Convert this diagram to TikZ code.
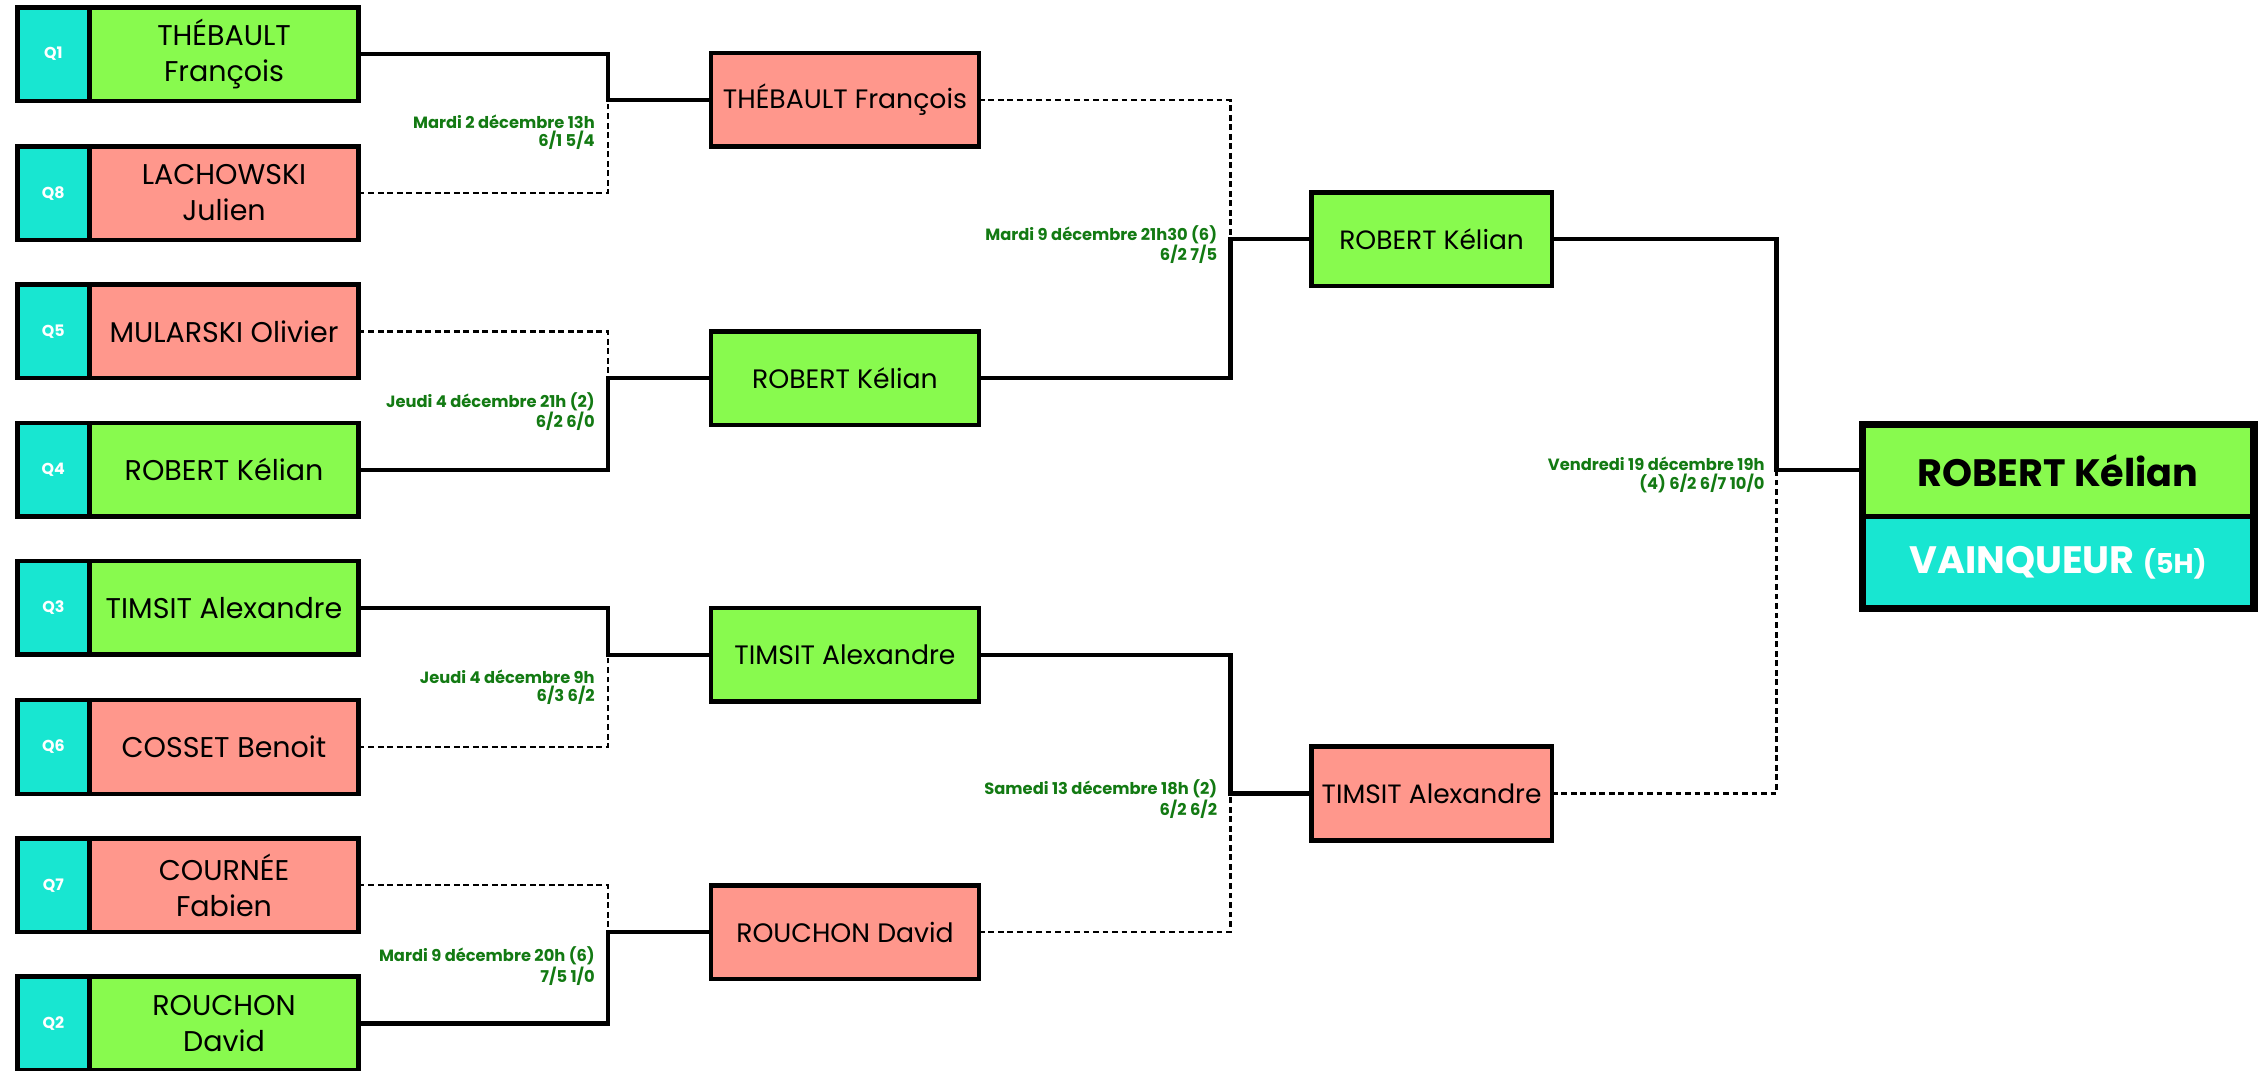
\documentclass[tikz,border=0pt]{standalone}
\usepackage{fontspec}
\setmainfont{Poppins}
\usetikzlibrary{positioning}
\definecolor{seedcyan}{HTML}{18E6D1}
\definecolor{wingreen}{HTML}{88FA4E}
\definecolor{losered}{HTML}{FF978C}
\definecolor{scoregreen}{HTML}{137A13}
\begin{document}
\begin{tikzpicture}[x=1pt,y=-1pt,
        seed node/.style={rectangle,draw,line width=3.2pt,outer sep=0pt,inner sep=0pt,fill=seedcyan,
          minimum width=50pt,minimum height=65pt,text=white,font=\bfseries\fontsize{11}{11}\selectfont},
        player node/.style={rectangle,draw,line width=3.2pt,outer sep=0pt,inner sep=0pt,align=center,
          minimum width=187pt,minimum height=65pt,font=\fontsize{19.8}{25}\selectfont},
        round node/.style={player node,minimum width=186pt,font=\fontsize{18.5}{23}\selectfont},
        semi node/.style={player node,minimum width=167pt,font=\fontsize{18.4}{23}\selectfont},
        champ node/.style={rectangle,draw,line width=3.4pt,outer sep=0pt,inner sep=0pt,
          minimum width=272pt,minimum height=64pt,font=\bfseries\fontsize{26.5}{26.5}\selectfont},
        win/.style={fill=wingreen},
        lose/.style={fill=losered},
        won/.style={line width=3pt},
        lost/.style={line width=1.6pt,dash pattern=on 4pt off 2.6pt},
        score/.style={inner sep=0pt,align=right,text=scoregreen,font=\bfseries\fontsize{11.3}{13}\selectfont}]

        \useasboundingbox (0,0) rectangle (1568,743);

        \node[seed node] (q1) at (37,37.5) {Q1};
        \node[player node,win,right=0pt of q1] (p1) {THÉBAULT\\François};
        \node[seed node] (q8) at (37,134) {Q8};
        \node[player node,lose,right=0pt of q8] (p8) {LACHOWSKI\\Julien};
        \node[seed node] (q5) at (37,230) {Q5};
        \node[player node,lose,right=0pt of q5] (p5) {MULARSKI Olivier};
        \node[seed node] (q4) at (37,326) {Q4};
        \node[player node,win,right=0pt of q4] (p4) {ROBERT Kélian};
        \node[seed node] (q3) at (37,422) {Q3};
        \node[player node,win,right=0pt of q3] (p3) {TIMSIT Alexandre};
        \node[seed node] (q6) at (37,518.5) {Q6};
        \node[player node,lose,right=0pt of q6] (p6) {COSSET Benoit};
        \node[seed node] (q7) at (37,614.5) {Q7};
        \node[player node,lose,right=0pt of q7] (p7) {COURNÉE\\Fabien};
        \node[seed node] (q2) at (37,710.5) {Q2};
        \node[player node,win,right=0pt of q2] (p2) {ROUCHON\\David};

        \node[round node,lose] (s1) at (586.5,69.4) {THÉBAULT François};
        \node[round node,win] (s2) at (586.5,262.4) {ROBERT Kélian};
        \node[round node,win] (s3) at (586.5,454.6) {TIMSIT Alexandre};
        \node[round node,lose] (s4) at (586.5,647) {ROUCHON David};

        \node[semi node,win] (t1) at (993.7,166) {ROBERT Kélian};
        \node[semi node,lose] (t2) at (993.7,550.7) {TIMSIT Alexandre};

        \node[champ node,win] (f1) at (1428.5,326.4) {ROBERT Kélian};
        \node[champ node,fill=seedcyan,text=white,below=0pt of f1] (f2) {VAINQUEUR {\fontsize{19}{19}\selectfont (5H)}};
        \draw[line width=5pt] (f1.north west) rectangle (f2.south east);

        \coordinate (j1) at (422,69.4);
        \coordinate (j2) at (422,262.4);
        \coordinate (j3) at (422,454.6);
        \coordinate (j4) at (422,647);
        \coordinate (k1) at (854,166);
        \coordinate (k2) at (854,550.7);
        \coordinate (m1) at (1233,326.4);

        \draw[won] (p1) -| (j1) -- (s1);
        \draw[lost] (p8) -| (j1);
        \draw[lost] (p5) -| (j2);
        \draw[won] (p4) -| (j2) -- (s2);
        \draw[won] (p3) -| (j3) -- (s3);
        \draw[lost] (p6) -| (j3);
        \draw[lost] (p7) -| (j4);
        \draw[won] (p2) -| (j4) -- (s4);
        \draw[lost] (s1) -| (k1);
        \draw[won] (s2) -| (k1) -- (t1);
        \draw[won] (s3) -| (k2) -- (t2);
        \draw[lost] (s4) -| (k2);
        \draw[won] (t1) -| (m1) -- (f1);
        \draw[lost] (t2) -| (m1);

        \node[score,anchor=north east] (d1) at (413,79.4) {Mardi 2 décembre 13h\\6/1 5/4};
        \node[score,anchor=north east] (d2) at (413,272.4) {Jeudi 4 décembre 21h (2)\\6/2 6/0};
        \node[score,anchor=north east] (d3) at (413,464.6) {Jeudi 4 décembre 9h\\6/3 6/2};
        \node[score,anchor=north east] (d4) at (413,657) {Mardi 9 décembre 20h (6)\\7/5 1/0};
        \node[score,anchor=north east] (d5) at (845,156.5) {Mardi 9 décembre 21h30 (6)\\6/2 7/5};
        \node[score,anchor=north east] (d6) at (845,541.2) {Samedi 13 décembre 18h (2)\\6/2 6/2};
        \node[score,anchor=north east] (d7) at (1225,316.9) {Vendredi 19 décembre 19h\\(4) 6/2 6/7 10/0};
\end{tikzpicture}
\end{document}
